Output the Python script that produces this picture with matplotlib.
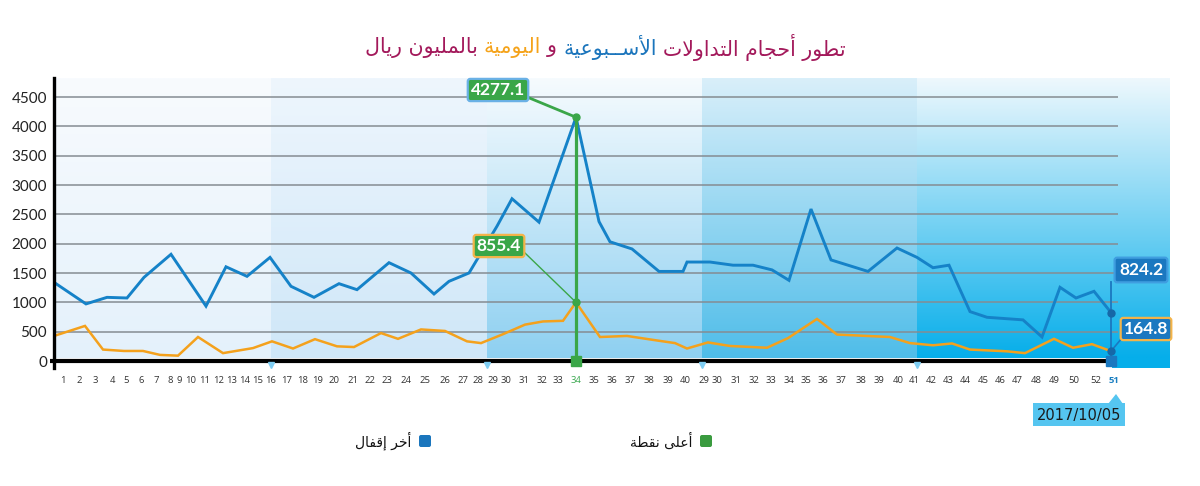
import numpy as np
import matplotlib
matplotlib.use("Agg")
import matplotlib.pyplot as plt
from matplotlib.patches import FancyBboxPatch, Polygon
from matplotlib.transforms import Affine2D

# ---------------- data ----------------
title_parts = [("تطور أحجام التداولات", "#a3195b"),
               ("الأســبوعية", "#1b75bc"),
               ("و", "#a3195b"),
               ("اليومية", "#f5a31a"),
               ("بالمليون ريال", "#a3195b")]

tick_labels = [str(i) for i in range(1, 41)] + [str(i) for i in range(29, 41)] + \
              [str(i) for i in range(41, 51)] + ["52", "51"]
tick_pos = [63, 79, 95, 112, 126, 141, 156, 170, 179, 191,
            205, 219, 232, 245, 258, 271, 287, 303, 318, 334,
            353, 370, 387, 406, 425, 445, 463, 478, 493, 506,
            524, 542, 558, 576, 594, 612, 630, 649, 668, 685,
            704, 717, 736, 754, 771, 789, 806, 823, 841, 861, 879, 898,
            914, 931, 948, 965, 983, 1000, 1017, 1036, 1054, 1074, 1096, 1114]

# weekly series (blue): position on time axis, value (million SAR)
blue_pos = [54, 86, 107, 127, 144, 171, 206, 226, 247, 270, 291, 314, 339, 357, 389,
            411, 434, 449, 469, 497, 512, 539, 576, 599, 610, 632, 659, 683, 687, 710,
            733, 753, 772, 789, 811, 831, 868, 897, 917, 933, 949, 970, 987, 1023, 1042,
            1060, 1076, 1094, 1111]
blue_val = [1341, 973, 1085, 1074, 1426, 1819, 935, 1606, 1443, 1766, 1273, 1085, 1318, 1216, 1676,
            1500, 1142, 1358, 1500, 2298, 2766, 2367, 4155, 2377, 2032, 1910, 1527, 1527, 1687, 1687,
            1633, 1633, 1553, 1375, 2590, 1723, 1527, 1926, 1766, 1590, 1633, 842, 745, 701, 409,
            1256, 1074, 1188, 826]

# daily series (orange)
orange_pos = [54, 85, 103, 124, 143, 160, 178, 198, 223, 253, 272, 293, 315, 337, 354, 381,
              398, 421, 445, 467, 481, 503, 525, 543, 563, 576, 600, 627, 653, 675, 687, 708,
              730, 767, 788, 817, 837, 890, 910, 933, 952, 970, 1007, 1025, 1054, 1073, 1092, 1111]
orange_val = [427, 598, 195, 171, 171, 104, 91, 409, 134, 220, 335, 213, 372, 250, 238, 476,
              378, 538, 512, 335, 305, 457, 620, 674, 685, 1000, 409, 427, 360, 305, 213, 317,
              256, 226, 390, 717, 451, 409, 305, 268, 299, 195, 165, 134, 378, 226, 287, 168]

y_ticks = [0, 500, 1000, 1500, 2000, 2500, 3000, 3500, 4000, 4500]
peak_label_blue = "4277.1"
peak_label_orange = "855.4"
last_label_blue = "824.2"
last_label_orange = "164.8"
last_date = "2017/10/05"
legend_high = "أعلى نقطة"
legend_last = "أخر إقفال"
band_edges = [54, 271, 487, 702, 917, 1170]

# ---------------- arabic shaping ----------------
F = {
    '\u0627': ('\uFE8D', '\uFE8E', None, None), '\u0623': ('\uFE83', '\uFE84', None, None),
    '\u0625': ('\uFE87', '\uFE88', None, None), '\u0622': ('\uFE81', '\uFE82', None, None),
    '\u0628': ('\uFE8F', '\uFE90', '\uFE91', '\uFE92'), '\u0629': ('\uFE93', '\uFE94', None, None),
    '\u062A': ('\uFE95', '\uFE96', '\uFE97', '\uFE98'), '\u062B': ('\uFE99', '\uFE9A', '\uFE9B', '\uFE9C'),
    '\u062C': ('\uFE9D', '\uFE9E', '\uFE9F', '\uFEA0'), '\u062D': ('\uFEA1', '\uFEA2', '\uFEA3', '\uFEA4'),
    '\u062E': ('\uFEA5', '\uFEA6', '\uFEA7', '\uFEA8'), '\u062F': ('\uFEA9', '\uFEAA', None, None),
    '\u0630': ('\uFEAB', '\uFEAC', None, None), '\u0631': ('\uFEAD', '\uFEAE', None, None),
    '\u0632': ('\uFEAF', '\uFEB0', None, None), '\u0633': ('\uFEB1', '\uFEB2', '\uFEB3', '\uFEB4'),
    '\u0634': ('\uFEB5', '\uFEB6', '\uFEB7', '\uFEB8'), '\u0635': ('\uFEB9', '\uFEBA', '\uFEBB', '\uFEBC'),
    '\u0636': ('\uFEBD', '\uFEBE', '\uFEBF', '\uFEC0'), '\u0637': ('\uFEC1', '\uFEC2', '\uFEC3', '\uFEC4'),
    '\u0638': ('\uFEC5', '\uFEC6', '\uFEC7', '\uFEC8'), '\u0639': ('\uFEC9', '\uFECA', '\uFECB', '\uFECC'),
    '\u063A': ('\uFECD', '\uFECE', '\uFECF', '\uFED0'), '\u0641': ('\uFED1', '\uFED2', '\uFED3', '\uFED4'),
    '\u0642': ('\uFED5', '\uFED6', '\uFED7', '\uFED8'), '\u0643': ('\uFED9', '\uFEDA', '\uFEDB', '\uFEDC'),
    '\u0644': ('\uFEDD', '\uFEDE', '\uFEDF', '\uFEE0'), '\u0645': ('\uFEE1', '\uFEE2', '\uFEE3', '\uFEE4'),
    '\u0646': ('\uFEE5', '\uFEE6', '\uFEE7', '\uFEE8'), '\u0647': ('\uFEE9', '\uFEEA', '\uFEEB', '\uFEEC'),
    '\u0648': ('\uFEED', '\uFEEE', None, None), '\u0649': ('\uFEEF', '\uFEF0', None, None),
    '\u064A': ('\uFEF1', '\uFEF2', '\uFEF3', '\uFEF4'), '\u0624': ('\uFE85', '\uFE86', None, None),
    '\u0626': ('\uFE89', '\uFE8A', '\uFE8B', '\uFE8C'),
}
LA = {'\u0627': ('\uFEFB', '\uFEFC'), '\u0623': ('\uFEF7', '\uFEF8'),
      '\u0625': ('\uFEF9', '\uFEFA'), '\u0622': ('\uFEF5', '\uFEF6')}
TAT = '\u0640'


def shape(s):
    def joins_next(c):
        return c == TAT or (c in F and F[c][2] is not None)

    def joinable(c):
        return c == TAT or c in F
    out = []
    i, n = 0, len(s)
    while i < n:
        c = s[i]
        if c not in F:
            out.append(c)
            i += 1
            continue
        prev = s[i - 1] if i > 0 else None
        cp = prev is not None and joins_next(prev)
        if c == '\u0644' and i + 1 < n and s[i + 1] in LA:
            iso, fin = LA[s[i + 1]]
            out.append(fin if cp else iso)
            i += 2
            continue
        nxt = s[i + 1] if i + 1 < n else None
        cn = F[c][2] is not None and nxt is not None and joinable(nxt)
        iso, fin, ini, med = F[c]
        out.append(med if (cp and cn) else fin if cp else ini if cn else iso)
        i += 1
    return ''.join(reversed(out))


# ---------------- figure ----------------
W, H = 1200, 486
fig = plt.figure(figsize=(W / 100, H / 100), dpi=100)
fig.patch.set_facecolor("white")
PX = Affine2D().scale(1 / W, -1 / H).translate(0, 1) + fig.transFigure

PXU = 264 / 4500.0          # pixels per unit
Y0 = 361                    # pixel row of value 0


def val(py):
    return (Y0 - py) / PXU


ax_left, ax_right, ax_top, ax_bot = 54, 1170, 78, 368
ax = fig.add_axes([ax_left / W, 1 - ax_bot / H, (ax_right - ax_left) / W, (ax_bot - ax_top) / H])
ax.set_xlim(ax_left, ax_right)
ax.set_ylim(val(ax_bot), val(ax_top))
for s in ax.spines.values():
    s.set_visible(False)
ax.patch.set_alpha(0)

# background bands (vertical gradients)
band_cols = [("#f8fbfe", "#e4f1fb"), ("#eef6fd", "#cfe7f8"), ("#f6fbfe", "#8ed0f1"),
             ("#d9effa", "#4fbde9"), ("#eef8fd", "#06aeea")]
for k, (c_top, c_bot) in enumerate(band_cols):
    t = np.array(matplotlib.colors.to_rgb(c_top))
    b = np.array(matplotlib.colors.to_rgb(c_bot))
    g = np.linspace(0, 1, 200)[:, None]
    img = t * (1 - g) + b * g
    img = np.repeat(img[:, None, :], 2, axis=1)
    ax.imshow(img, extent=[band_edges[k], band_edges[k + 1], val(358), val(ax_top)],
              aspect='auto', zorder=0, interpolation='bilinear')
# right tail of last band reaching below the axis line
ax.add_patch(plt.Rectangle((1112, val(368)), 58, val(358) - val(368), fc="#06aeea", ec="none",
                           zorder=0))
ax.set_xlim(ax_left, ax_right)
ax.set_ylim(val(ax_bot), val(ax_top))

# gridlines
for v in y_ticks[1:]:
    ax.plot([54, 1118], [v, v], color="#858c92", lw=1.1, zorder=1, solid_capstyle='butt')

# axis lines
ax.plot([54, 54], [val(368), val(ax_top)], color="black", lw=2.4, zorder=6, clip_on=False)
ax.plot([50, 1110], [0, 0], color="black", lw=3.0, zorder=6, clip_on=False, solid_capstyle='butt')

# small boundary markers
for bx in band_edges[1:-1]:
    ax.plot(bx, val(365), marker='v', ms=4, color="#7fcdf2", zorder=7, clip_on=False)

# series
ax.plot(orange_pos, orange_val, color="#f4a11c", lw=1.8, zorder=4, solid_joinstyle='miter')
ax.plot(blue_pos, blue_val, color="#1582c8", lw=2.1, zorder=5, solid_joinstyle='miter')

# ticks
ax.set_yticks(y_ticks)
ax.set_yticklabels([str(v) for v in y_ticks], fontsize=11, family="Lato", color="#222222")
ax.tick_params(axis='y', length=0, pad=5)
ax.set_xticks(tick_pos)
ax.set_xticklabels(tick_labels, fontsize=6.8, family="Open Sans", color="#333333")
ax.tick_params(axis='x', length=0, pad=6)
for k, lab in enumerate(ax.get_xticklabels()):
    if k == 33:
        lab.set_color("#3aa84f")
    if k == len(tick_labels) - 1:
        lab.set_color("#1a7fc1")
        lab.set_fontweight("bold")

# ---- peak annotation (green) ----
pk = int(np.argmax(blue_val))
px_peak, v_peak = blue_pos[pk], blue_val[pk]
op = int(np.argmax(orange_val))
v_opeak = orange_val[op]
GREEN = "#3aa648"
ax.plot([px_peak, px_peak], [0, v_peak], color=GREEN, lw=2.3, zorder=8)
ax.plot(px_peak, 0, marker='s', ms=7, color=GREEN, zorder=9, clip_on=False)
ax.plot([527, px_peak], [val(97), v_peak], color=GREEN, lw=2.0, zorder=8)
ax.plot([525, px_peak], [val(253), v_opeak], color=GREEN, lw=1.0, zorder=8)
ax.plot([px_peak, px_peak], [v_peak, v_opeak], ls='none', marker='o', ms=5, color=GREEN, zorder=9)
ax.text(498, val(90), peak_label_blue, ha='center', va='center', fontsize=12.5, family="Lato",
        fontweight='bold', color='white', zorder=10,
        bbox=dict(boxstyle='round,pad=0.18,rounding_size=0.15', fc=GREEN, ec="#6ab1e6", lw=1.6))
ax.text(499, val(246), peak_label_orange, ha='center', va='center', fontsize=12.5, family="Lato",
        fontweight='bold', color='white', zorder=10,
        bbox=dict(boxstyle='round,pad=0.18,rounding_size=0.15', fc=GREEN, ec="#f4b44a", lw=1.6))

# ---- last point annotation (blue) ----
BLUE = "#1b78c0"
lx, lv_b, lv_o = blue_pos[-1], blue_val[-1], orange_val[-1]
ax.plot([lx, lx], [0, val(282)], color=BLUE, lw=1.3, zorder=8, clip_on=False)
ax.plot(lx, 0, marker='s', ms=7, color=BLUE, zorder=9, clip_on=False)
ax.plot([lx, lx], [lv_b, lv_o], ls='none', marker='o', ms=5, color="#1668a8", zorder=9)
ax.plot([lx, 1122], [lv_o, val(338)], color=BLUE, lw=1.2, zorder=8, clip_on=False)
ax.text(1141, val(270), last_label_blue, ha='center', va='center', fontsize=12.5, family="Lato",
        fontweight='bold', color='white', zorder=10, clip_on=False,
        bbox=dict(boxstyle='round,pad=0.25,rounding_size=0.15', fc=BLUE, ec="#3f9ee0", lw=1.6))
ax.text(1146, val(329), last_label_orange, ha='center', va='center', fontsize=12.5, family="Lato",
        fontweight='bold', color='white', zorder=10, clip_on=False,
        bbox=dict(boxstyle='round,pad=0.18,rounding_size=0.15', fc=BLUE, ec="#f4b44a", lw=1.6))

# date box
fig.patches.append(Polygon([[1033, 403], [1125, 403], [1125, 426], [1033, 426]], closed=True,
                           transform=PX, fc="#55c5f0", ec="none"))
fig.patches.append(Polygon([[1108, 404], [1123, 404], [1116, 394]], closed=True,
                           transform=PX, fc="#55c5f0", ec="none"))
fig.text(1079 / W, 1 - 415 / H, last_date, ha='center', va='center', fontsize=10.5,
         family="DejaVu Sans", color="#1a1a1a")

# legend
fig.patches.append(FancyBboxPatch((700, 435), 12, 12, boxstyle='round,pad=0,rounding_size=2',
                                  transform=PX, fc="#3a9b3f", ec="none"))
fig.patches.append(FancyBboxPatch((419, 435), 12, 12, boxstyle='round,pad=0,rounding_size=2',
                                  transform=PX, fc="#1b76bd", ec="none"))
fig.text(692 / W, 1 - 441 / H, shape(legend_high), ha='right', va='center', fontsize=10,
         family="DejaVu Sans", color="#111111")
fig.text(411 / W, 1 - 441 / H, shape(legend_last), ha='right', va='center', fontsize=10,
         family="DejaVu Sans", color="#111111")

# title (multi-coloured, right-to-left)
renderer = fig.canvas.get_renderer()
ttexts = []
for s, c in title_parts:
    t = fig.text(0, 1 - 47 / H, shape(s), color=c, fontsize=14.8, family="DejaVu Sans",
                 ha='left', va='center')
    ttexts.append(t)
widths = [t.get_window_extent(renderer).width for t in ttexts]
gap = 6
total = sum(widths) + gap * (len(widths) - 1)
xr = 605 + total / 2
for t, w in zip(ttexts, widths):
    xr -= w
    t.set_x(xr / W)
    xr -= gap

fig.savefig("out.png", dpi=100, facecolor="white")
